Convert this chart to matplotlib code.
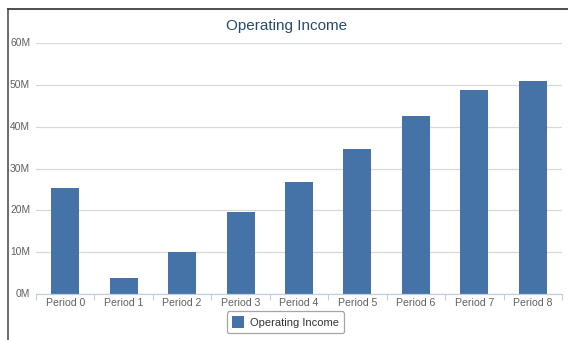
import numpy as np
import matplotlib
matplotlib.use('Agg')
import matplotlib.pyplot as plt
from matplotlib.lines import Line2D
from matplotlib.ticker import FuncFormatter

plt.rcParams['font.family'] = ['Liberation Sans', 'DejaVu Sans']

# operating income per period, in millions
periods = ["Period 0", "Period 1", "Period 2", "Period 3", "Period 4",
           "Period 5", "Period 6", "Period 7", "Period 8"]
income = [25.3, 3.9, 10.1, 19.6, 26.8, 34.7, 42.5, 48.7, 50.9]
y_ticks = [0, 10, 20, 30, 40, 50, 60]

bar_col = "#4572a7"
txt_col = "#606060"

fig = plt.figure(figsize=(5.68, 3.40), dpi=100)
ax = fig.add_axes([36 / 568, 1 - 294 / 340, (562 - 36) / 568, (294 - 43) / 340])

x = np.arange(len(periods))
ax.bar(x, income, width=0.48, color=bar_col, zorder=3, label="Operating Income")

ax.set_xlim(-0.5, len(periods) - 0.5)
ax.set_ylim(0, 60)
ax.set_yticks(y_ticks)
ax.yaxis.set_major_formatter(FuncFormatter(lambda v, p: "%dM" % v))
ax.grid(axis="y", color="#d8d8d8", linewidth=0.9, zorder=0)
ax.set_xticks(x)
ax.set_xticklabels(periods)
ax.tick_params(axis="x", length=0, pad=3, labelsize=7.6, labelcolor=txt_col)
ax.tick_params(axis="y", length=0, pad=4.2, labelsize=7.4, labelcolor=txt_col)
for lab in ax.get_yticklabels():
    lab.set_verticalalignment("center")

# minor ticks between categories on the x axis
ax.set_xticks(np.arange(-0.5, len(periods), 1.0), minor=True)
ax.tick_params(axis="x", which="minor", length=4, color="#c0d0e0", width=0.8)

for side in ["top", "right", "left"]:
    ax.spines[side].set_visible(False)
ax.spines["bottom"].set_color("#c0d0e0")
ax.spines["bottom"].set_linewidth(0.9)
ax.spines["bottom"].set_zorder(4)

fig.text(287 / 568, 1 - 26 / 340, "Operating Income", ha="center", va="center",
         fontsize=11, color="#274b6d")

leg = ax.legend(loc="center", bbox_to_anchor=(0.474, -0.112), frameon=True,
                fontsize=8, handlelength=1.15, handleheight=1.15, borderpad=0.45,
                handletextpad=0.5, fancybox=True, labelcolor="#333333")
leg.get_frame().set_edgecolor("#909090")
leg.get_frame().set_linewidth(0.9)

# outer frame lines on the left and top
fig.add_artist(Line2D([8 / 568, 8 / 568], [0, 1 - 9 / 340], color="#606060", linewidth=1.3))
fig.add_artist(Line2D([8 / 568, 1], [1 - 9 / 340, 1 - 9 / 340], color="#404040", linewidth=1.3))

plt.savefig("out.png", dpi=100)
